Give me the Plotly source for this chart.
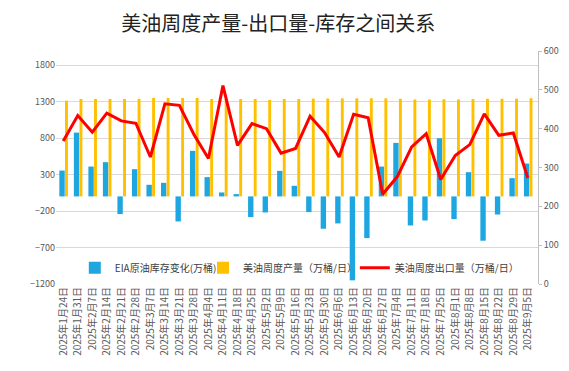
import plotly.graph_objects as go

dates = ["2025年1月24日", "2025年1月31日", "2025年2月7日", "2025年2月14日", "2025年2月21日",
         "2025年2月28日", "2025年3月7日", "2025年3月14日", "2025年3月21日", "2025年3月28日",
         "2025年4月4日", "2025年4月11日", "2025年4月18日", "2025年4月25日", "2025年5月2日",
         "2025年5月9日", "2025年5月16日", "2025年5月23日", "2025年5月30日", "2025年6月6日",
         "2025年6月13日", "2025年6月20日", "2025年6月27日", "2025年7月4日", "2025年7月11日",
         "2025年7月18日", "2025年7月25日", "2025年8月1日", "2025年8月8日", "2025年8月15日",
         "2025年8月22日", "2025年8月29日", "2025年9月5日"]

inventory_change = [354, 874, 409, 469, -242, 373, 159, 186, -343, 624,
                    264, 54, 31, -283, -220, 350, 145, -215, -443, -370,
                    -1150, -571, 409, 733, -398, -330, 797, -311, 332, -607,
                    -248, 250, 450]

production = [1312, 1335, 1335, 1335, 1335, 1337, 1349, 1349, 1349, 1349,
              1335, 1335, 1335, 1335, 1322, 1335, 1334, 1340, 1341, 1343,
              1343, 1344, 1343, 1338, 1328, 1327, 1331, 1328, 1333, 1338,
              1338, 1339, 1345]

exports = [368, 434, 391, 440, 420, 414, 327, 464, 460, 385,
           323, 511, 357, 413, 400, 337, 349, 432, 390, 327,
           437, 428, 231, 276, 353, 387, 269, 331, 359, 438,
           383, 389, 273]

tick_font = dict(family="Noto Sans CJK SC, Noto Sans, sans-serif", size=9, color="#595959")
legend_font = dict(family="Noto Sans CJK SC, sans-serif", size=10, color="#404040")

fig = go.Figure()
fig.add_trace(go.Bar(
    x=dates, y=inventory_change, name="EIA原油库存变化(万桶)",
    marker=dict(color="#1EA6E0", line=dict(width=0)),
    width=0.37, offset=-0.27, yaxis="y", legend="legend"))
fig.add_trace(go.Bar(
    x=dates, y=production, name="美油周度产量（万桶/日）",
    marker=dict(color="#FFC000", line=dict(width=0)),
    width=0.2, offset=0.12, yaxis="y", legend="legend2"))
fig.add_trace(go.Scatter(
    x=dates, y=exports, name="美油周度出口量（万桶/日）", mode="lines",
    line=dict(color="#FF0000", width=3), yaxis="y2", legend="legend3"))

def leg(xpos):
    return dict(orientation="h", x=xpos, xanchor="left", y=0.07, yanchor="middle",
                bgcolor="rgba(0,0,0,0)", itemwidth=30, font=legend_font)

fig.update_layout(
    width=569, height=371,
    margin=dict(l=48, r=39, t=43, b=95),
    paper_bgcolor="white", plot_bgcolor="white",
    barmode="overlay",
    title=dict(text="美油周度产量-出口量-库存之间关系", x=0.475, xanchor="center",
               y=0.958, yanchor="middle",
               font=dict(family="Noto Sans CJK SC, sans-serif", size=20, color="#222222")),
    xaxis=dict(type="category", range=[-0.5, 32.7], tickangle=-90, automargin=False,
               tickfont=dict(family="Noto Sans CJK SC, sans-serif", size=10, color="#595959"),
               showgrid=False, showline=False, ticks="", zeroline=False),
    yaxis=dict(range=[-1200, 1992], tick0=-1200, dtick=500, showgrid=True, automargin=False,
               gridcolor="#d9d9d9", gridwidth=1, zeroline=False, showline=False,
               tickfont=tick_font, ticks=""),
    yaxis2=dict(range=[0, 600], dtick=100, overlaying="y", side="right", showgrid=False,
                zeroline=False, showline=True, linecolor="#bfbfbf", linewidth=1, automargin=False,
                ticks="outside", ticklen=3, tickcolor="#bfbfbf", tickfont=tick_font),
    legend=leg(0.039),
    legend2=leg(0.305),
    legend3=leg(0.62),
    showlegend=True,
)

fig.write_html("out.html")
